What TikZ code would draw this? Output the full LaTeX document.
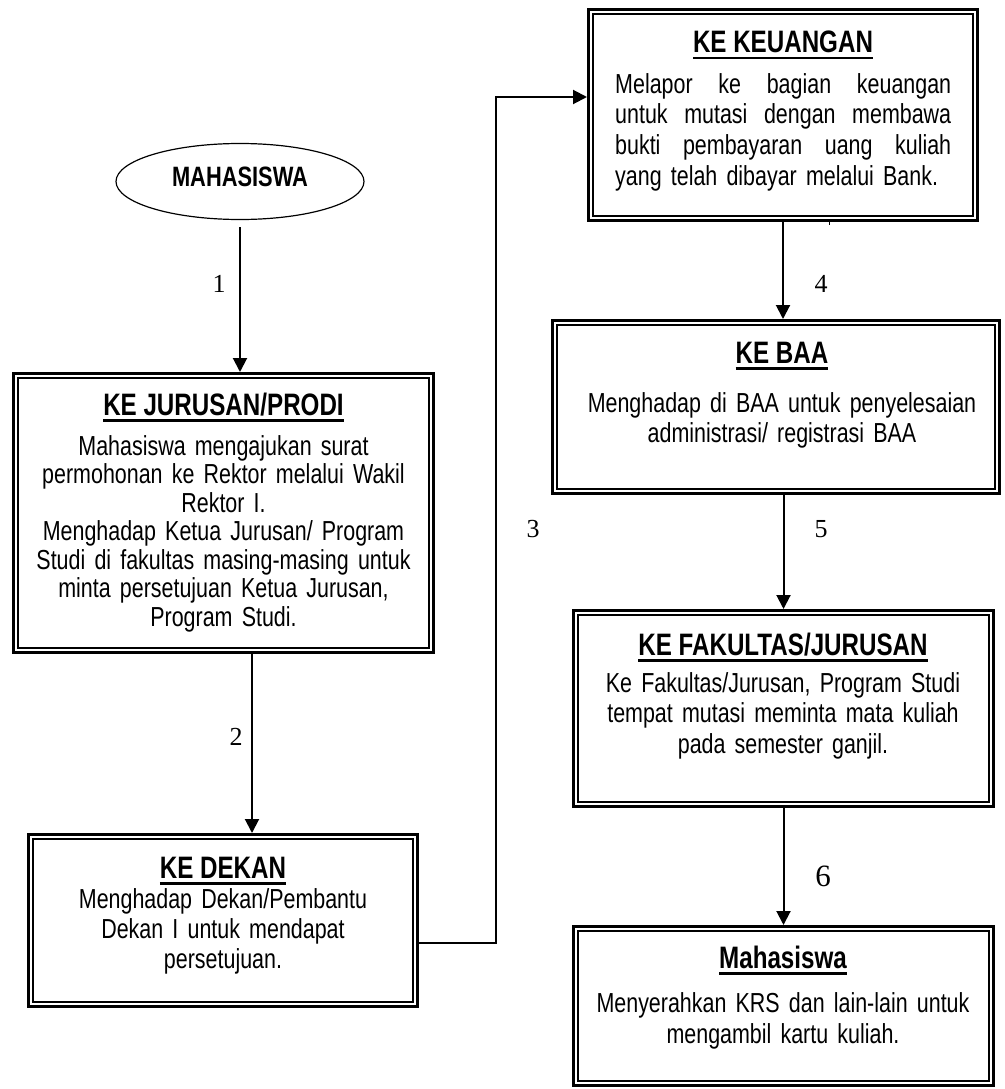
\documentclass[tikz,border=0pt]{standalone}
\usepackage{fontspec}
\usetikzlibrary{arrows.meta,shapes.geometric}
\newfontfamily\narrowsans{Liberation Sans}[FakeStretch=0.78]
\newfontfamily\numserif{Liberation Serif}
\newcommand\myul[1]{\setbox0\hbox{#1}\rlap{\rule[-6.5pt]{\wd0}{2.8pt}}\box0}
\newcommand\fst{\rule{0pt}{21pt}}
\newcommand\jline[1]{\makebox[336pt]{#1}}
\tikzset{
  box/.style={rectangle, draw, line width=3pt, inner sep=0pt,
    path picture={\draw[line width=2pt]
      ([shift={(4.5pt,4.5pt)}]path picture bounding box.south west) rectangle
      ([shift={(-4.5pt,-4.5pt)}]path picture bounding box.north east);}},
  titletext/.style={anchor=base, inner sep=0pt, font=\narrowsans\bfseries\fontsize{31}{34}\selectfont},
  bodytext/.style={anchor=north, inner sep=0pt, align=center, text width=420pt,
    font=\narrowsans\fontsize{27.5}{#1}\selectfont},
  num/.style={anchor=base, inner sep=0pt, font=\numserif\fontsize{26}{30}\selectfont},
  arr/.style={line width=2pt, -{Triangle[width=14pt,length=14pt]}},
}
\begin{document}
\begin{tikzpicture}[x=1pt,y=-1pt]
\useasboundingbox (0,0) rectangle (1004,1089);

% start ellipse
\node[ellipse, draw, line width=1.2pt, minimum width=248pt, minimum height=76pt,
  inner sep=0pt, text height=20pt, text depth=11pt,
  font=\narrowsans\bfseries\fontsize{28}{32}\selectfont] (ell) at (240,181.5) {MAHASISWA};

% boxes
\node[box, minimum width=420pt, minimum height=279pt] (JUR) at (223.5,513) {};
\node[box, minimum width=389pt, minimum height=172pt] (DEK) at (223,920.5) {};
\node[box, minimum width=389pt, minimum height=211pt] (KEU) at (783,115) {};
\node[box, minimum width=447pt, minimum height=173pt] (BAA) at (776,407) {};
\node[box, minimum width=420pt, minimum height=196pt] (FAK) at (783.5,708.5) {};
\node[box, minimum width=420pt, minimum height=159pt] (MHS) at (783.5,1006) {};

% titles
\node[titletext] (tJUR) at (223.5,415) {\myul{KE JURUSAN/PRODI}};
\node[titletext] (tDEK) at (223,878) {\myul{KE DEKAN}};
\node[titletext] (tKEU) at (783,53) {\myul{KE KEUANGAN}};
\node[titletext] (tBAA) at (782,363) {\myul{KE BAA}};
\node[titletext] (tFAK) at (783,655) {\myul{KE FAKULTAS/JURUSAN}};
\node[titletext] (tMHS) at (783,968) {\myul{Mahasiswa}};

% bodies
\node[bodytext=28.5] (bJUR) at (223.5,434) {\fst Mahasiswa mengajukan surat\\
  permohonan ke Rektor melalui Wakil\\ Rektor I.\\ Menghadap Ketua Jurusan/ Program\\
  Studi di fakultas masing-masing untuk\\ minta persetujuan Ketua Jurusan,\\ Program Studi.};
\node[bodytext=30] (bDEK) at (223,887) {\fst Menghadap Dekan/Pembantu\\
  Dekan I untuk mendapat\\ persetujuan.};
\node[anchor=north west, inner sep=0pt, align=left, text width=336pt,
  font=\narrowsans\fontsize{27.5}{30.7}\selectfont] (bKEU) at (615,72) {\fst\jline{Melapor\hfill ke\hfill bagian\hfill keuangan}\\
  \jline{untuk\hfill mutasi\hfill dengan\hfill membawa}\\
  \jline{bukti\hfill pembayaran\hfill uang\hfill kuliah}\\
  yang telah dibayar melalui Bank.};
\node[bodytext=30] (bBAA) at (782,391) {\fst Menghadap di BAA untuk penyelesaian\\
  administrasi/ registrasi BAA};
\node[bodytext=30.5] (bFAK) at (783,671) {\fst Ke Fakultas/Jurusan, Program Studi\\
  tempat mutasi meminta mata kuliah\\ pada semester ganjil.};
\node[bodytext=31] (bMHS) at (783,991) {\fst Menyerahkan KRS dan lain-lain untuk\\
  mengambil kartu kuliah.};

% connectors
\coordinate (a1) at (240,227);
\coordinate (x2) at (252,0);
\coordinate (x3) at (496,500);
\draw[arr] (a1) -- (a1 |- JUR.north);
\draw[arr] (JUR.south -| x2) -- (DEK.north -| x2);
\draw[arr] ([yshift=-22.5pt]DEK.east) -| (x3) |- ([yshift=18pt]KEU.west);
\draw[arr] (KEU.south) -- (KEU.south |- BAA.north);
\draw[arr] (FAK.north |- BAA.south) -- (FAK.north);
\draw[arr] (FAK.south) -- (MHS.north);
\draw[line width=1.5pt] (829.5,222) -- (829.5,225);

% step numbers
\node[num] (n1) at (219,292) {1};
\node[num] (n2) at (236,745) {2};
\node[num] (n3) at (533,537) {3};
\node[num] (n4) at (821,292) {4};
\node[num] (n5) at (821,537) {5};
\node[num, font=\numserif\fontsize{31}{34}\selectfont] (n6) at (823,886) {6};
\end{tikzpicture}
\end{document}
